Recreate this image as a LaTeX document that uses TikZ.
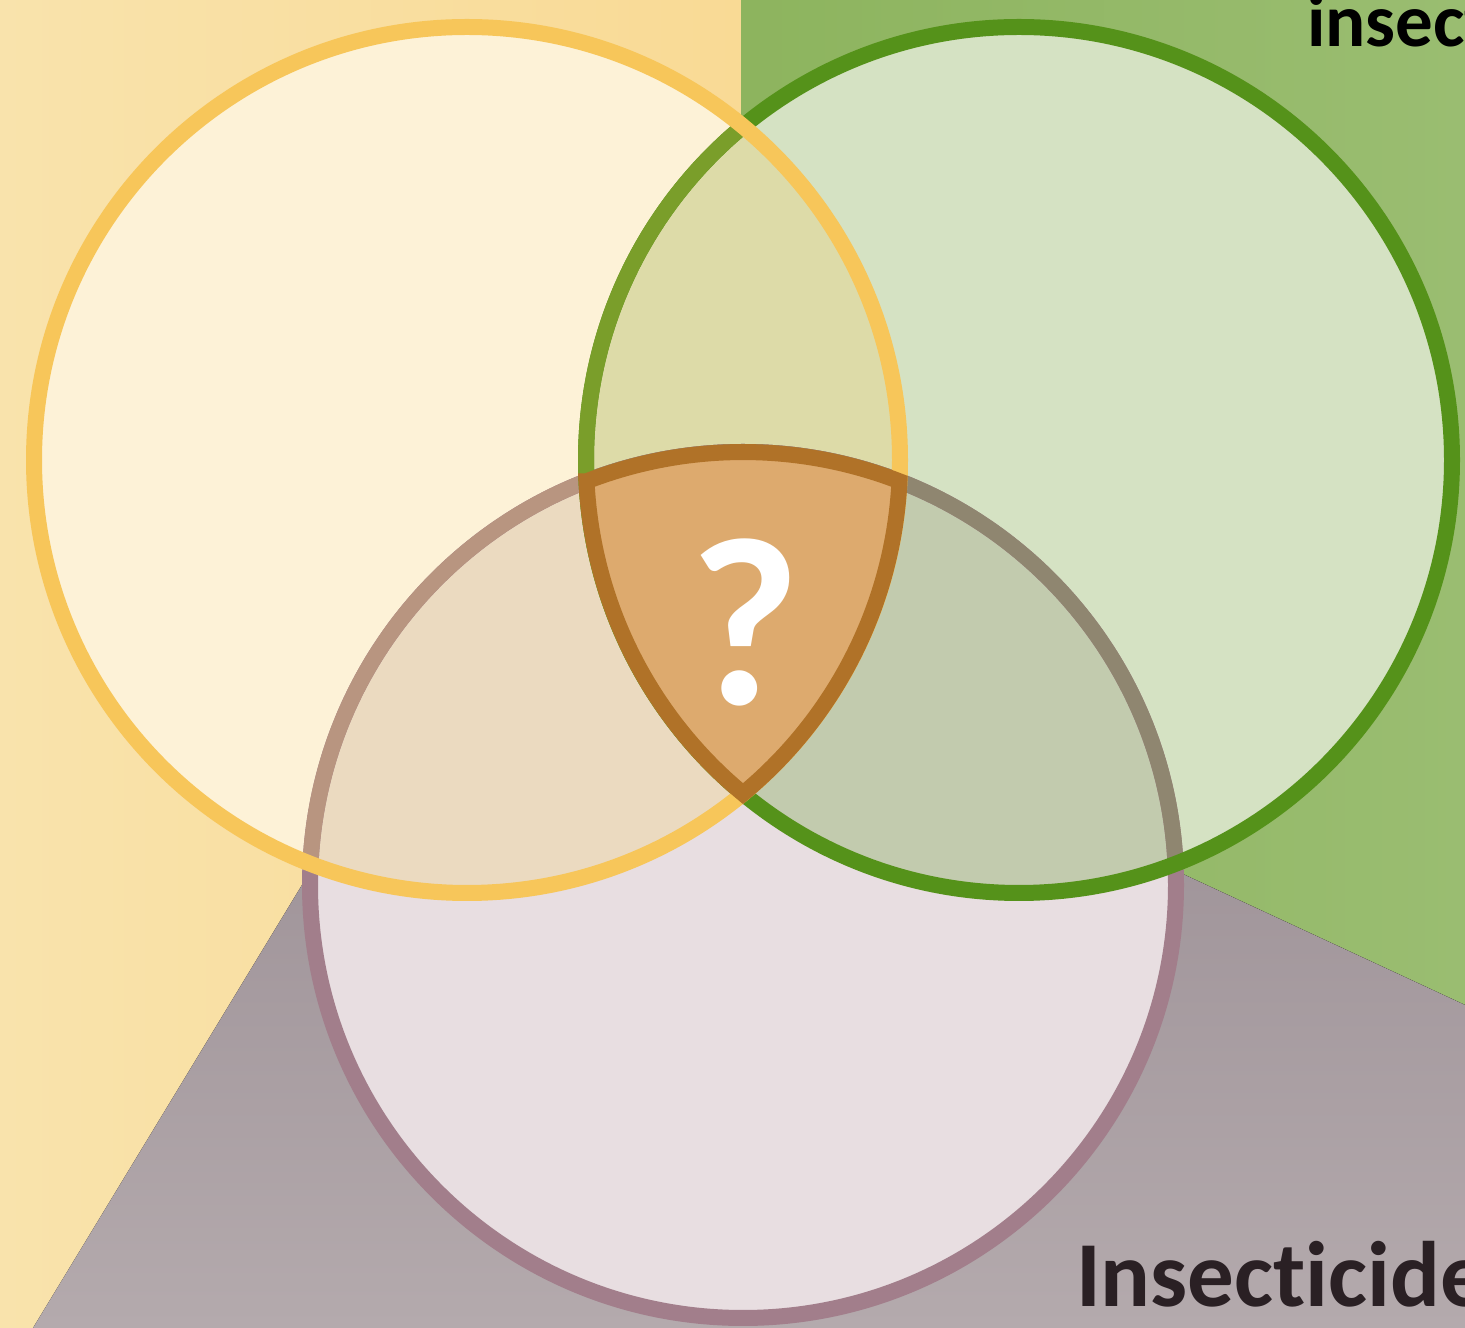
\documentclass[tikz,border=0pt]{standalone}
\usepackage{fontspec}
\setmainfont{Carlito}[Ligatures=NoCommon, RawFeature=-liga]
\definecolor{bgyl}{HTML}{F9E3AC}
\definecolor{bgyr}{HTML}{F9DA95}
\definecolor{bggl}{HTML}{8DB45E}
\definecolor{bggr}{HTML}{9ABD71}
\definecolor{bgpt}{HTML}{9A8E94}
\definecolor{bgpb}{HTML}{B4AAAD}
\definecolor{fyo}{HTML}{FDF2D7}
\definecolor{fgo}{HTML}{D5E2C3}
\definecolor{fpo}{HTML}{E8DEE1}
\definecolor{fyg}{HTML}{DDDBA8}
\definecolor{fyp}{HTML}{EBDAC0}
\definecolor{fgp}{HTML}{C2CBAE}
\definecolor{ftri}{HTML}{DDAA6E}
\definecolor{syo}{HTML}{F7C65A}
\definecolor{sgo}{HTML}{55921A}
\definecolor{sgy}{HTML}{7A9E2A}
\definecolor{spo}{HTML}{A27E8B}
\definecolor{spy}{HTML}{B89580}
\definecolor{spg}{HTML}{8F8670}
\definecolor{stri}{HTML}{B07228}
\definecolor{txtdark}{HTML}{2A2024}
\begin{document}
\begin{tikzpicture}[x=1pt,y=1pt,
  ring/.style={line width=16pt},
  lbl/.style={inner sep=0pt, outer sep=0pt, font=\bfseries}]
\useasboundingbox (0,0) rectangle (1465,1328);
\clip (0,0) rectangle (1465,1328);
\def\R{433pt}
\coordinate (cy) at (467,868);
\coordinate (cg) at (1019,868);
\coordinate (cp) at (743,443);
\coordinate (ta) at (586.6,846.7);
% background
\fill[bgyr] (0,0) rectangle (1465,1328);
\fill[left color=bgyl, right color=bgyr] (0,0) rectangle (741,1328);
\fill[left color=bggl, right color=bggr] (741,1328) -- (1465,1328) -- (1465,323) -- (741,659) -- cycle;
\fill[top color=bgpt, bottom color=bgpb] (33,0) -- (302,443) -- (743,628) -- (1185,453) -- (1465,323) -- (1465,0) -- cycle;
% region fills
\fill[fpo] (cp) circle[radius=\R];
\fill[fgo] (cg) circle[radius=\R];
\fill[fyo] (cy) circle[radius=\R];
\begin{scope}
  \clip (cy) circle[radius=\R];
  \fill[fyg] (cg) circle[radius=\R];
  \fill[fyp] (cp) circle[radius=\R];
\end{scope}
\begin{scope}
  \clip (cg) circle[radius=\R];
  \fill[fgp] (cp) circle[radius=\R];
\end{scope}
% purple ring
\draw[ring, spo] (cp) circle[radius=\R];
\begin{scope}
  \clip (cy) circle[radius=\R];
  \draw[ring, spy] (cp) circle[radius=\R];
\end{scope}
\begin{scope}
  \clip (cg) circle[radius=\R];
  \draw[ring, spg] (cp) circle[radius=\R];
\end{scope}
% green ring
\draw[ring, sgo] (cg) circle[radius=\R];
\begin{scope}
  \clip (cy) circle[radius=\R];
  \draw[ring, sgy] (cg) circle[radius=\R];
\end{scope}
% yellow ring
\draw[ring, syo] (cy) circle[radius=\R];
% triple intersection
\filldraw[ring, fill=ftri, draw=stri]
  (ta) arc[start angle=111.18, end angle=68.82, radius=\R]
       arc[start angle=-2.82, end angle=-50.40, radius=\R]
       arc[start angle=230.40, end angle=182.82, radius=\R] -- cycle;
% texts
\node[lbl, anchor=base west, text=black, font=\bfseries\fontsize{75}{75}\selectfont] (t1) at (1307,1281) {insect};
\node[lbl, anchor=base west, text=txtdark, font=\bfseries\fontsize{93}{93}\selectfont] (t2) at (1076,21) {Insecticide};
\node[lbl, anchor=base, text=white, font=\bfseries\fontsize{240}{240}\selectfont] (q) at (745,623) {?};
\end{tikzpicture}
\end{document}
